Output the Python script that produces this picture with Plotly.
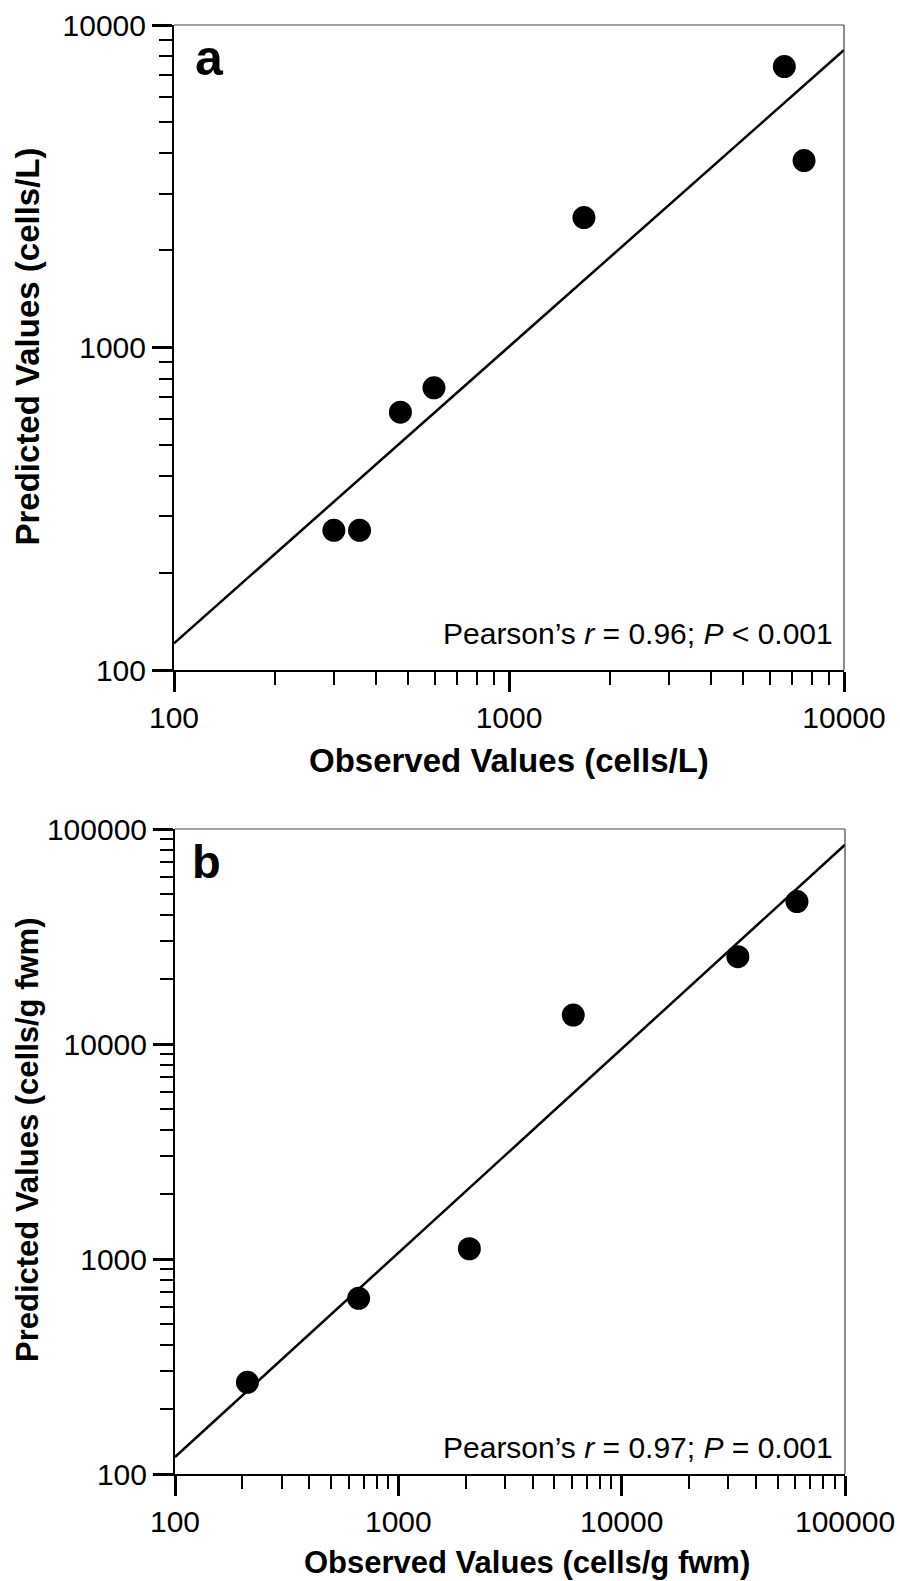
import plotly.graph_objects as go

# ---------------- data ----------------
obs_a = [300, 358, 474, 597, 1674, 6635, 7598]
pred_a = [271, 271, 630, 750, 2529, 7430, 3798]
fit_a_x = [100, 10000]
fit_a_y = [121, 8365]

obs_b = [211, 664, 2080, 6070, 33130, 60950]
pred_b = [267, 656, 1116, 13640, 25490, 46000]
fit_b_x = [100, 100000]
fit_b_y = [120, 84500]

ticks_a = [100, 1000, 10000]
ticklabels_a = ["100", "1000", "10000"]
ticks_b = [100, 1000, 10000, 100000]
ticklabels_b = ["100", "1000", "10000", "100000"]

W, H = 900, 1581
FONT = "Liberation Sans, Arial, sans-serif"


def minor_vals(lo_exp, hi_exp):
    return [m * 10 ** k for k in range(lo_exp, hi_exp) for m in range(2, 10)]


def px_x(p):
    return p / W


def px_y(p):
    return 1 - p / H


fig = go.Figure()

# panel a
fig.add_trace(go.Scatter(x=fit_a_x, y=fit_a_y, mode="lines",
                         line=dict(color="black", width=2.5),
                         xaxis="x", yaxis="y", hoverinfo="skip"))
fig.add_trace(go.Scatter(x=obs_a, y=pred_a, mode="markers",
                         marker=dict(color="black", size=23),
                         xaxis="x", yaxis="y"))
# panel b
fig.add_trace(go.Scatter(x=fit_b_x, y=fit_b_y, mode="lines",
                         line=dict(color="black", width=2.5),
                         xaxis="x2", yaxis="y2", hoverinfo="skip"))
fig.add_trace(go.Scatter(x=obs_b, y=pred_b, mode="markers",
                         marker=dict(color="black", size=23),
                         xaxis="x2", yaxis="y2"))


def axis(domain, anchor, rng, tickvals, ticktext, minor):
    return dict(
        domain=domain, anchor=anchor, type="log", range=rng,
        automargin=False,
        tickmode="array", tickvals=tickvals, ticktext=ticktext,
        ticks="outside", ticklen=20, tickwidth=2.5, tickcolor="black",
        showline=True, linecolor="black", linewidth=2,
        showgrid=False, zeroline=False,
        tickfont=dict(family=FONT, size=30, color="black"),
        minor=dict(tickmode="array", tickvals=minor, ticks="outside",
                   ticklen=13, tickwidth=1.5, tickcolor="black", showgrid=False),
    )


layout = dict(
    width=W, height=H,
    margin=dict(l=0, r=0, t=0, b=0, autoexpand=False),
    paper_bgcolor="white", plot_bgcolor="white",
    showlegend=False,
    font=dict(family=FONT, color="black"),
)
layout["xaxis"] = axis([px_x(174), px_x(844)], "y", [2, 4], ticks_a, ticklabels_a, minor_vals(2, 4))
layout["yaxis"] = axis([px_y(670), px_y(25)], "x", [2, 4], ticks_a, ticklabels_a, minor_vals(2, 4))
layout["xaxis2"] = axis([px_x(175), px_x(845)], "y2", [2, 5], ticks_b, ticklabels_b, minor_vals(2, 5))
layout["yaxis2"] = axis([px_y(1474), px_y(829)], "x2", [2, 5], ticks_b, ticklabels_b, minor_vals(2, 5))

fig.update_layout(**layout)

# thin top/right frame
shapes = []
for xr, yr in (("x domain", "y domain"), ("x2 domain", "y2 domain")):
    shapes.append(dict(type="line", xref=xr, yref=yr, x0=0, x1=1, y0=1, y1=1,
                       line=dict(color="#444444", width=1.2)))
    shapes.append(dict(type="line", xref=xr, yref=yr, x0=1, x1=1, y0=0, y1=1,
                       line=dict(color="#444444", width=1.2)))
fig.update_layout(shapes=shapes)

ann = []


def add_text(text, x, y, size, xanchor="center", bold=False, angle=0):
    ann.append(dict(text=("<b>%s</b>" % text) if bold else text,
                    x=px_x(x), y=px_y(y), xref="paper", yref="paper",
                    xanchor=xanchor, yanchor="middle", showarrow=False,
                    textangle=angle,
                    font=dict(family=FONT, size=size, color="black")))


add_text("a", 193, 57.7, 50, xanchor="left", bold=True)
add_text("b", 190, 861.7, 47, xanchor="left", bold=True)
add_text("Pearson’s <i>r</i> = 0.96; <i>P</i> &lt; 0.001", 835, 633, 30, xanchor="right")
add_text("Pearson’s <i>r</i> = 0.97; <i>P</i> = 0.001", 835, 1447, 30, xanchor="right")
add_text("Observed Values (cells/L)", 509, 760.6, 33, bold=True)
add_text("Observed Values (cells/g fwm)", 527, 1562, 31, bold=True)
add_text("Predicted Values (cells/L)", 27, 346.5, 33, bold=True, angle=-90)
add_text("Predicted Values (cells/g fwm)", 27, 1140, 31, bold=True, angle=-90)

fig.update_layout(annotations=ann)

fig.write_html("out.html")
